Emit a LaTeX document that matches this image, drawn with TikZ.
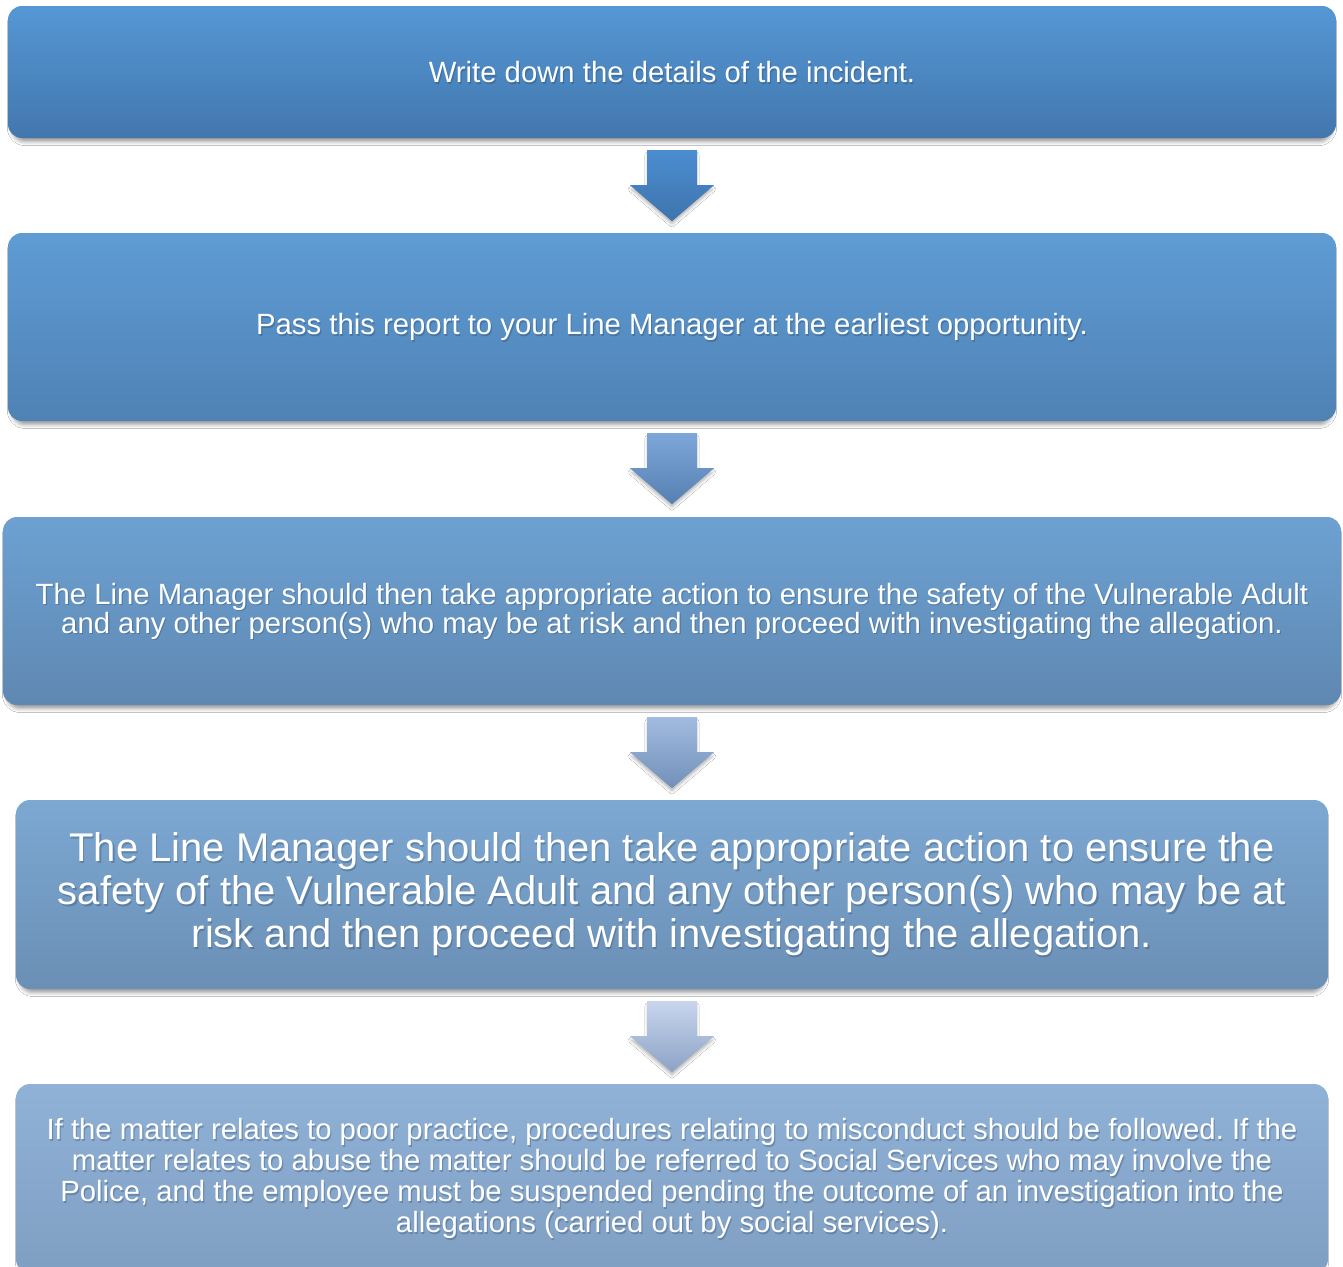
\documentclass[tikz,border=0pt]{standalone}
\usepackage{fontspec}
\setmainfont{Liberation Sans}
\usetikzlibrary{calc,shadows.blur}
\frenchspacing

% step colours, top and bottom of each gradient
\definecolor{boxAtop}{HTML}{5597D5}
\definecolor{boxAbot}{HTML}{4277AD}
\definecolor{boxBtop}{HTML}{5E9CD4}
\definecolor{boxBbot}{HTML}{4F82B5}
\definecolor{boxCtop}{HTML}{6CA1D2}
\definecolor{boxCbot}{HTML}{5F88B2}
\definecolor{boxDtop}{HTML}{7CA8D2}
\definecolor{boxDbot}{HTML}{6B8FB5}
\definecolor{boxEtop}{HTML}{90B2D7}
\definecolor{boxEbot}{HTML}{7F9FC2}
% arrow colours
\definecolor{arrAtop}{HTML}{4B8DD1}
\definecolor{arrAbot}{HTML}{3E74AC}
\definecolor{arrBtop}{HTML}{7DA7D8}
\definecolor{arrBbot}{HTML}{5680B1}
\definecolor{arrCtop}{HTML}{A2BBE0}
\definecolor{arrCbot}{HTML}{7190B8}
\definecolor{arrDtop}{HTML}{C8D5ED}
\definecolor{arrDbot}{HTML}{8BA3C5}
\definecolor{txtshade}{HTML}{1F3550}

\tikzset{
  stepbox/.style={rectangle, rounded corners=14pt, draw=none,
    blur shadow={shadow xshift=0pt, shadow yshift=-4pt, shadow scale=0.995,
      shadow blur radius=4pt, shadow opacity=40}},
  steptext/.style={text=white, align=center, inner sep=0pt},
  stepshade/.style={text=txtshade, opacity=0.28, align=center, inner sep=0pt},
  arrowshape/.style={draw=none,
    blur shadow={shadow xshift=0pt, shadow yshift=-4pt, shadow scale=0.97,
      shadow blur radius=3pt, shadow opacity=30}},
}

% white step text with a soft dark shadow behind it
\newcommand\steptxt[3]{% box name, font, text
  \node[stepshade, font=#2] (#1s) at ($(#1)+(1.2,1.8)$) {#3};
  \node[steptext, font=#2] (#1t) at (#1) {#3};
}

% block arrow hanging below a step box
\newcommand\flowarrow[4]{% name, box above, top colour, bottom colour
  \coordinate (#1) at ($(#2.south)+(0,12)$);
  \path[arrowshape, top color=#3, bottom color=#4]
    ($(#1)+(-25,0)$) -- ($(#1)+(25,0)$) -- ($(#1)+(25,35)$) --
    ($(#1)+(42,35)$) -- ($(#1)+(0,71)$) -- ($(#1)+(-42,35)$) --
    ($(#1)+(-25,35)$) -- cycle;
}

\begin{document}
\begin{tikzpicture}[x=1pt, y=-1pt]
  \useasboundingbox[fill=white] (0,0) rectangle (1343,1266);

  \node[stepbox, minimum width=1328pt, minimum height=132pt,
        top color=boxAtop, bottom color=boxAbot] (b1) at (672,72) {};
  \node[stepbox, minimum width=1328pt, minimum height=188pt,
        top color=boxBtop, bottom color=boxBbot] (b2) at (672,327) {};
  \node[stepbox, minimum width=1338pt, minimum height=188pt,
        top color=boxCtop, bottom color=boxCbot] (b3) at (672,611) {};
  \node[stepbox, minimum width=1312pt, minimum height=189pt,
        top color=boxDtop, bottom color=boxDbot] (b4) at (672,894.5) {};
  \node[stepbox, minimum width=1312pt, minimum height=189pt,
        top color=boxEtop, bottom color=boxEbot] (b5) at (672,1178.5) {};

  \flowarrow{a1}{b1}{arrAtop}{arrAbot}
  \flowarrow{a2}{b2}{arrBtop}{arrBbot}
  \flowarrow{a3}{b3}{arrCtop}{arrCbot}
  \flowarrow{a4}{b4}{arrDtop}{arrDbot}

  \steptxt{b1}{\fontsize{29.3}{34}\selectfont}{Write down the details of the incident.}
  \steptxt{b2}{\fontsize{29.3}{34}\selectfont}{Pass this report to your Line Manager at the earliest opportunity.}
  \steptxt{b3}{\fontsize{29.3}{29}\selectfont}{The Line Manager should then take appropriate action to ensure the safety of the Vulnerable Adult\\and any other person(s) who may be at risk and then proceed with investigating the allegation.}
  \steptxt{b4}{\fontsize{40}{43}\selectfont}{The Line Manager should then take appropriate action to ensure the\\safety of the Vulnerable Adult and any other person(s) who may be at\\risk and then proceed with investigating the allegation.}
  \steptxt{b5}{\fontsize{29.3}{31}\selectfont}{If the matter relates to poor practice, procedures relating to misconduct should be followed. If the\\matter relates to abuse the matter should be referred to Social Services who may involve the\\Police, and the employee must be suspended pending the outcome of an investigation into the\\allegations (carried out by social services).}
\end{tikzpicture}
\end{document}
